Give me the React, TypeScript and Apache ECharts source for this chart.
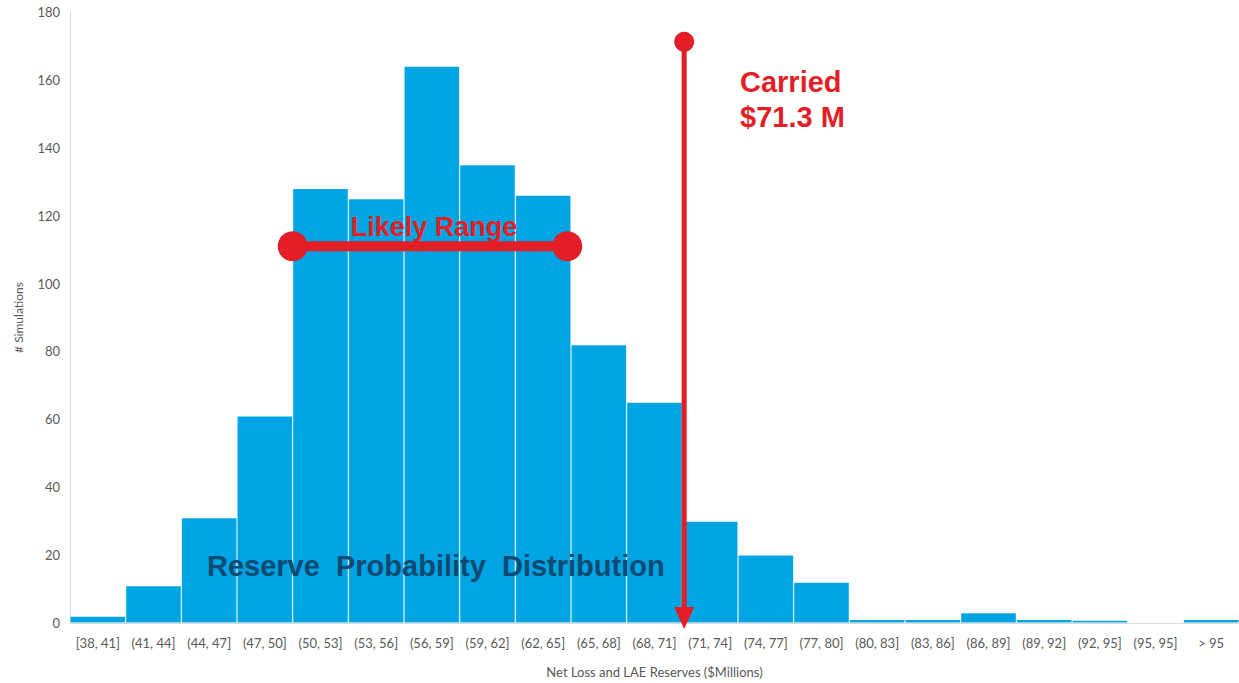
import React, { useEffect, useRef } from "react";
import * as echarts from "echarts";

const categories = [
  "[38, 41]", "(41, 44]", "(44, 47]", "(47, 50]", "(50, 53]", "(53, 56]", "(56, 59]",
  "(59, 62]", "(62, 65]", "(65, 68]", "(68, 71]", "(71, 74]", "(74, 77]", "(77, 80]",
  "(80, 83]", "(83, 86]", "(86, 89]", "(89, 92]", "(92, 95]", "(95, 95]", "> 95",
];
const simulations = [2, 11, 31, 61, 128, 125, 164, 135, 126, 82, 65, 30, 20, 12, 1, 1, 3, 1, 0.8, 0, 1];

// Annotation values in $Millions (hidden linear axis spanning 38..101)
const rangeMin = 38;
const rangeMax = 101;
const likelyRange = [50, 64.8];
const likelyRangeLevel = 111;
const carriedPos = 71.1;
const carriedTop = 171.2;
const carriedBottom = 1.5;

const RED = "#E41E26";
const BLUE = "#00A4E2";
const GREY = "#595959";

export default function App() {
  const ref = useRef<HTMLDivElement>(null);
  useEffect(() => {
    if (!ref.current) return;
    const chart = echarts.init(ref.current, null, { renderer: "svg" });
    chart.setOption({
      animation: false,
      backgroundColor: "#ffffff",
      grid: { left: 70, right: 0, top: 12, bottom: 59, containLabel: false },
      xAxis: [
        {
          type: "category",
          data: categories,
          axisTick: { show: false },
          axisLine: { show: true, lineStyle: { color: "#D9D9D9", width: 1 } },
          axisLabel: { interval: 0, color: GREY, fontFamily: "Lato", fontSize: 13, margin: 13 },
          name: "Net Loss and LAE Reserves ($Millions)",
          nameLocation: "middle",
          nameGap: 42,
          nameTextStyle: { color: GREY, fontFamily: "Lato", fontSize: 13 },
        },
        {
          type: "value",
          min: rangeMin,
          max: rangeMax,
          show: false,
        },
      ],
      yAxis: {
        type: "value",
        min: 0,
        max: 180,
        interval: 20,
        splitLine: { show: false },
        axisTick: { show: false },
        axisLine: { show: true, lineStyle: { color: "#D9D9D9", width: 1 } },
        axisLabel: { color: GREY, fontFamily: "Lato", fontSize: 13, margin: 10 },
        name: "# Simulations",
        nameLocation: "middle",
        nameGap: 46,
        nameTextStyle: { color: GREY, fontFamily: "Lato", fontSize: 12 },
      },
      series: [
        {
          type: "bar",
          xAxisIndex: 0,
          data: simulations,
          barCategoryGap: "0%",
          itemStyle: { color: BLUE, borderColor: "rgba(255,255,255,0.07)", borderWidth: 1 },
          z: 1,
        },
        {
          type: "line",
          xAxisIndex: 1,
          data: likelyRange.map((v) => [v, likelyRangeLevel]),
          symbol: "circle",
          symbolSize: 30,
          lineStyle: { color: RED, width: 10 },
          itemStyle: { color: RED },
          clip: false,
          z: 5,
        },
        {
          type: "line",
          xAxisIndex: 1,
          data: [
            { value: [carriedPos, carriedTop], symbol: "circle", symbolSize: 20 },
            { value: [carriedPos, carriedBottom], symbol: "triangle", symbolRotate: 180, symbolSize: [20, 22] },
          ],
          lineStyle: { color: RED, width: 5 },
          itemStyle: { color: RED },
          clip: false,
          z: 5,
        },
      ],
      graphic: [
        {
          type: "text",
          x: 434,
          y: 227,
          z: 10,
          style: {
            text: "Likely Range",
            fill: RED,
            font: "bold 27px 'Liberation Sans', Arial, sans-serif",
            align: "center",
            verticalAlign: "middle",
          },
        },
        {
          type: "text",
          x: 740,
          y: 64,
          z: 10,
          style: {
            text: "Carried\n$71.3 M",
            fill: RED,
            font: "bold 29px 'Liberation Sans', Arial, sans-serif",
            lineHeight: 35,
            align: "left",
            verticalAlign: "top",
          },
        },
        {
          type: "text",
          x: 207,
          y: 566,
          z: 10,
          style: {
            text: "Reserve  Probability  Distribution",
            fill: "#0E4A72",
            font: "bold 29px 'Liberation Sans', Arial, sans-serif",
            align: "left",
            verticalAlign: "middle",
          },
        },
      ],
    });
    return () => chart.dispose();
  }, []);
  return (
    <div
      ref={ref}
      style={{ position: "fixed", left: 0, top: 0, width: 1239, height: 683, background: "#fff" }}
    />
  );
}
